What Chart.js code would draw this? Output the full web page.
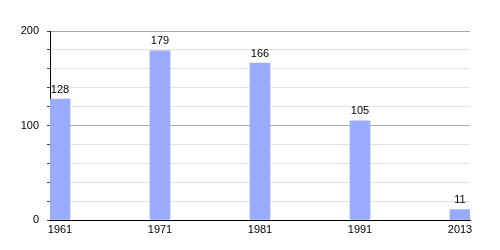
<!DOCTYPE html>
<html>
<head>
<meta charset="utf-8">
<script src="https://cdn.jsdelivr.net/npm/chart.js@4"></script>
<style>
  html, body { margin: 0; padding: 0; background: #fff; }
  #wrap { width: 500px; height: 250px; }
</style>
</head>
<body>
<div id="wrap"><canvas id="popChart"></canvas></div>
<script>
const years = ['1961', '1971', '1981', '1991', '2013'];
const population = [128, 179, 166, 105, 11];
const yTicks = [0, 100, 200];

// etykiety wartości nad słupkami
const valueLabels = {
    id: 'valueLabels',
    afterDatasetsDraw(chart) {
        const ctx = chart.ctx;
        const meta = chart.getDatasetMeta(0);
        ctx.save();
        ctx.font = '11px "Liberation Sans", Arial, sans-serif';
        ctx.fillStyle = '#000';
        ctx.textAlign = 'center';
        ctx.textBaseline = 'bottom';
        meta.data.forEach((bar, i) => {
            ctx.fillText(String(population[i]), bar.x, bar.y - 4);
        });
        ctx.restore();
    }
};

const ctx = document.getElementById('popChart');
new Chart(ctx, {
    type: 'bar',
    data: {
        datasets: [{
            data: population.map((v, i) => ({ x: i, y: v })),
            backgroundColor: '#99aaff',
            borderWidth: 0,
            barThickness: 20
        }]
    },
    plugins: [valueLabels],
    options: {
        responsive: true,
        maintainAspectRatio: false,
        animation: false,
        layout: { padding: { top: 31, right: 30, left: 0, bottom: 0 } },
        plugins: {
            legend: { display: false },
            tooltip: { enabled: false }
        },
        scales: {
            x: {
                type: 'linear',
                min: -0.1,
                max: 4.1,
                offset: false,
                afterFit: s => { s.height = 30; },
                afterBuildTicks: s => { s.ticks = years.map((y, i) => ({ value: i })); },
                grid: { display: false, offset: false, drawTicks: false, tickLength: 0 },
                border: { display: true, color: '#000', width: 1 },
                ticks: {
                    padding: 3,
                    color: '#000',
                    font: { family: '"Liberation Sans", Arial, sans-serif', size: 11 },
                    callback: v => years[v] ?? ''
                }
            },
            y: {
                min: 0,
                max: 200,
                afterFit: s => { s.width = 50; },
                ticks: {
                    stepSize: 20,
                    padding: 8,
                    color: '#000',
                    font: { family: '"Liberation Sans", Arial, sans-serif', size: 11 },
                    callback: v => yTicks.includes(v) ? String(v) : ''
                },
                grid: {
                    color: c => (c.tick && c.tick.value % 100 === 0) ? '#aaaaaa' : '#e2e2e2',
                    tickColor: '#444',
                    tickLength: 3
                },
                border: { display: true, color: '#000', width: 1 }
            }
        }
    }
});
</script>
</body>
</html>
